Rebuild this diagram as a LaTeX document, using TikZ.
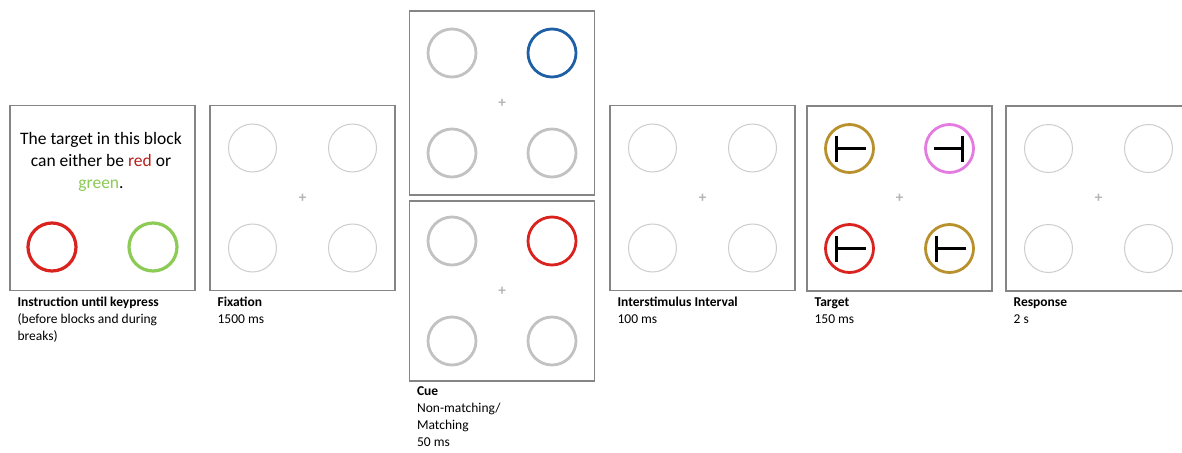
\documentclass[tikz,border=0pt]{standalone}
\usepackage{fontspec}
\setmainfont{Carlito}
\usetikzlibrary{positioning}
\definecolor{framegray}{HTML}{858585}
\definecolor{lightring}{HTML}{CDCDCD}
\definecolor{cuegray}{HTML}{C2C2C2}
\definecolor{crossgray}{HTML}{B4B4B4}
\definecolor{cueblue}{HTML}{1F5FA6}
\definecolor{cuered}{HTML}{D9231F}
\definecolor{instrgreen}{HTML}{8CCB55}
\definecolor{targold}{HTML}{B8902C}
\definecolor{tarpink}{HTML}{E37BE0}
\begin{document}
\begin{tikzpicture}[x=1pt,y=-1pt,
  panel/.style={draw=framegray,line width=1.2pt,minimum width=185pt,minimum height=185pt,inner sep=0pt},
  ring/.style={circle,draw=lightring,line width=1pt,minimum size=48pt,inner sep=0pt},
  thickring/.style={ring,line width=2.8pt},
  fixcross/.style={text=crossgray,inner sep=0pt,font=\fontsize{15}{15}\selectfont\bfseries},
  tbar/.style={line width=3.2pt,black},
  caption/.style={align=left,inner sep=0pt,font=\fontsize{13.5}{17}\selectfont}]
\clip (0,0) rectangle (1182,452);
\fill[white] (0,0) rectangle (1182,452);
% panels
\node[panel] (instr) at (102.5,198) {}; \node[panel] (fix) at (302.5,198) {};
\node[panel,minimum height=184pt] (cueup) at (502,103) {}; \node[panel,minimum height=180pt] (cuedown) at (502,291) {};
\node[panel] (isi) at (702.5,198) {}; \node[panel] (tar) at (899.5,198.5) {}; \node[panel] (resp) at (1098.5,198.5) {};
% instruction screen
\node[align=center,inner sep=0pt,font=\fontsize{17.5}{22}\selectfont] (instrtext) at (101,162) {The target in this block\\can either be \textcolor{cuered!85!black}{red} or\\\textcolor{instrgreen}{green}.};
\node[thickring,line width=3.2pt,draw=cuered] (instrred) at (52,247) {};
\node[thickring,line width=3.2pt,draw=instrgreen] (instrgreen) at (153,247) {};
% placeholder screens
\foreach \p in {fix,isi,resp} {
  \node[fixcross] (\p x) at (\p) {+};
  \node[ring] (\p tl) at ([shift={(-50pt,50pt)}]\p.center) {}; \node[ring] (\p tr) at ([shift={(50pt,50pt)}]\p.center) {};
  \node[ring] (\p bl) at ([shift={(-50pt,-50pt)}]\p.center) {}; \node[ring] (\p br) at ([shift={(50pt,-50pt)}]\p.center) {};
}
% cue screens
\foreach \p/\c in {cueup/cueblue,cuedown/cuered} {
  \node[fixcross] (\p x) at (\p) {+};
  \node[thickring,draw=cuegray] (\p tl) at ([shift={(-50pt,50pt)}]\p.center) {}; \node[thickring,draw=\c] (\p tr) at ([shift={(50pt,50pt)}]\p.center) {};
  \node[thickring,draw=cuegray] (\p bl) at ([shift={(-50pt,-50pt)}]\p.center) {}; \node[thickring,draw=cuegray] (\p br) at ([shift={(50pt,-50pt)}]\p.center) {};
}
% target screen
\node[fixcross] (tarx) at (tar) {+};
\node[thickring,draw=targold] (tartl) at ([shift={(-50pt,50pt)}]tar.center) {}; \node[thickring,draw=tarpink] (tartr) at ([shift={(50pt,50pt)}]tar.center) {};
\node[thickring,draw=cuered] (tarbl) at ([shift={(-50pt,-50pt)}]tar.center) {}; \node[thickring,draw=targold] (tarbr) at ([shift={(50pt,-50pt)}]tar.center) {};
\foreach \c/\s in {tl/1,tr/-1,bl/1,br/1}
  \draw[tbar] (tar\c) ++(-13*\s,-13) -- ++(0,26) ++(0,-13) -- ++(29*\s,0);
% captions
\node[caption,below right=3pt and 8pt of instr.south west] (instrcap) {\strut\textbf{Instruction until keypress}\\(before blocks and during\\breaks)};
\node[caption,below right=3pt and 8pt of fix.south west] (fixcap) {\strut\textbf{Fixation}\\1500 ms};
\node[caption,below right=2pt and 8pt of cuedown.south west] (cuecap) {\strut\textbf{Cue}\\Non-matching/\\Matching\\50 ms};
\node[caption,below right=3pt and 8pt of isi.south west] (isicap) {\strut\textbf{Interstimulus Interval}\\100 ms};
\node[caption,below right=3pt and 8pt of tar.south west] (tarcap) {\strut\textbf{Target}\\150 ms};
\node[caption,below right=3pt and 8pt of resp.south west] (respcap) {\strut\textbf{Response}\\2 s};
\end{tikzpicture}
\end{document}
